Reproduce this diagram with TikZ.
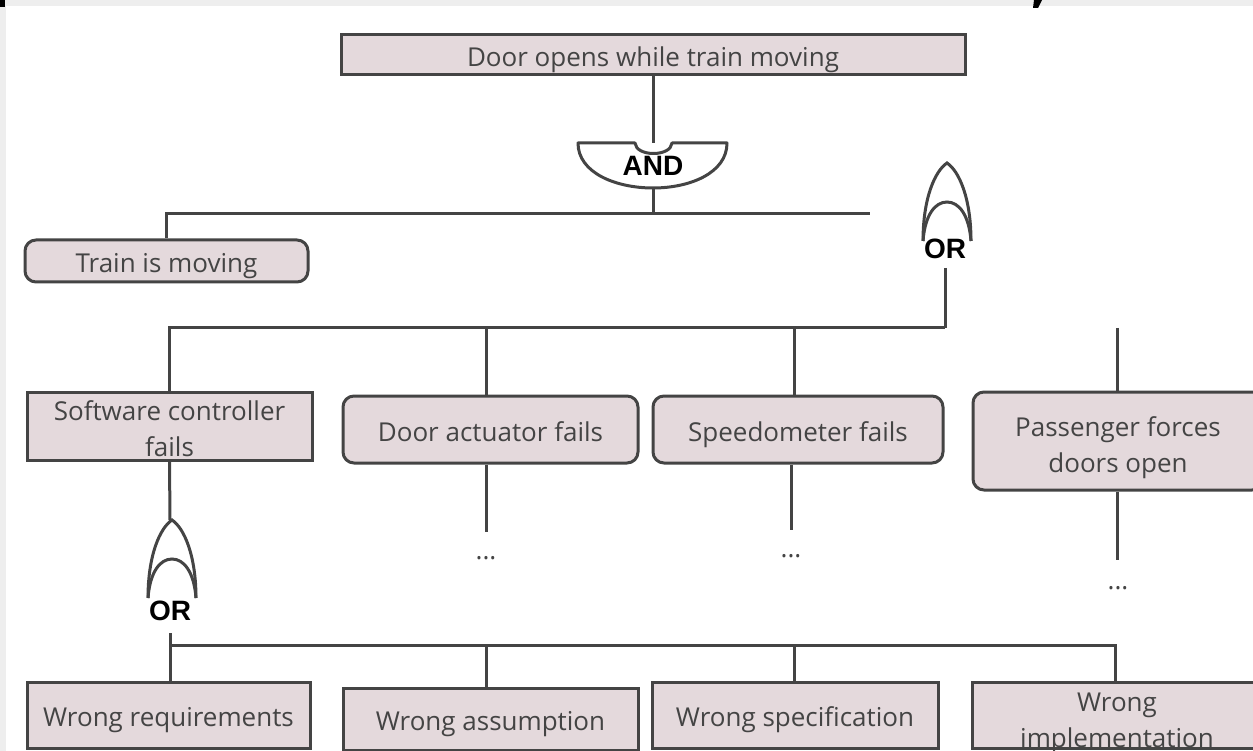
\documentclass[tikz,border=0pt]{standalone}
\usepackage{fontspec}
\setmainfont{Open Sans}
\newfontfamily\gatefont{Liberation Sans}
\definecolor{boxfill}{HTML}{E4D9DC}
\definecolor{edge}{HTML}{444444}
\definecolor{frame}{HTML}{EEEEEE}
\tikzset{
  event/.style={draw=edge, fill=boxfill, line width=3pt, text=edge,
    font=\fontsize{26}{36}\selectfont, inner sep=0pt, align=center,
    text height=23pt, text depth=0pt},
  sharpbox/.style={event},
  roundbox/.style={event, rounded corners=11pt},
  twolines/.style={text height=#1, text depth=0pt},
  wire/.style={draw=edge, line width=3pt},
  gatelabel/.style={font=\gatefont\bfseries\fontsize{28}{28}\selectfont, text=black, inner sep=0pt},
  more/.style={font=\fontsize{26}{26}\selectfont, text=edge, inner sep=0pt},
  orgate/.pic={
    \draw[wire] (-24,78) .. controls (-24,35) and (-12,8) .. (0,0)
      .. controls (12,8) and (24,35) .. (24,78);
    \draw[wire] (-24,78) .. controls (-22,52) and (-12,39) .. (0,39)
      .. controls (12,39) and (22,52) .. (24,78);
  }
}
\begin{document}
\begin{tikzpicture}[x=1pt, y=-1pt]
  \useasboundingbox (0,0) rectangle (1253,751);
  \fill[frame] (0,0) rectangle (1253,6);
  \fill[frame] (0,0) rectangle (6,751);
  \fill[black] (0,0) rectangle (5,7);
  \fill[black] (1034,0) -- (1042,0) -- (1038,8) -- (1033,8) -- cycle;

  % events
  \node[sharpbox, minimum width=624, minimum height=40] (door) at (653,55) {Door opens while train moving};
  \node[roundbox, minimum width=283, minimum height=42] (train) at (166.5,261) {Train is moving};
  \node[sharpbox, twolines=60pt, minimum width=285, minimum height=68] (soft) at (169.5,426) {Software controller\\fails};
  \node[roundbox, minimum width=295, minimum height=67] (actuator) at (490.5,429.5) {Door actuator fails};
  \node[roundbox, minimum width=290, minimum height=67] (speedo) at (798,429.5) {Speedometer fails};
  \node[roundbox, twolines=62pt, minimum width=290, minimum height=98] (passenger) at (1118,441) {Passenger forces\\doors open};
  \node[sharpbox, minimum width=283, minimum height=66] (req) at (168.5,715) {Wrong requirements};
  \node[sharpbox, minimum width=295, minimum height=62] (assump) at (490.5,719) {Wrong assumption};
  \node[sharpbox, minimum width=286, minimum height=66] (spec) at (795,715) {Wrong specification};
  \node[sharpbox, twolines=64pt, minimum width=290, minimum height=66] (impl) at (1117,715) {Wrong\\implementation};

  % AND gate
  \coordinate (andin) at (653,143);
  \coordinate (andout) at (653,188);
  \draw[wire, line join=round] (578,143) -- (635,143) .. controls (636,157) and (671,157) .. (672,143)
    -- (727,143) .. controls (727,173) and (690,188) .. (andout)
    .. controls (616,188) and (578,173) .. cycle;
  \node[gatelabel] (andlabel) at (653,166) {AND};

  % OR gates
  \pic at (947,163) {orgate};
  \node[gatelabel] (orlabelA) at (945,249) {OR};
  \coordinate (orAout) at (945,268);
  \pic at (172,520) {orgate};
  \node[gatelabel] (orlabelB) at (170,611) {OR};
  \coordinate (orBin) at (170,520);
  \coordinate (orBout) at (170,633);

  % connectors
  \coordinate (busA) at (653,214);
  \coordinate (busAend) at (870,214);
  \draw[wire] (door.south) -- (andin);
  \draw[wire] (andout) -- (busA);
  \draw[wire] (train.north) |- (busAend);

  \coordinate (busB) at (945,328);
  \draw[wire] (orAout) -- (busB);
  \draw[wire] (soft.north) |- (busB);
  \draw[wire] (486,328) -- (486,0 |- actuator.north);
  \draw[wire] (794,328) -- (794,0 |- speedo.north);
  \draw[wire] (1117,328) -- (1117,0 |- passenger.north);

  \node[more] (moreA) at (486,558) {...};
  \node[more] (moreB) at (791,556) {...};
  \node[more] (moreC) at (1118,588) {...};
  \draw[wire] (486,0 |- actuator.south) -- (486,532);
  \draw[wire] (791,0 |- speedo.south) -- (791,530);
  \draw[wire] (1117,0 |- passenger.south) -- (1117,560);

  \draw[wire] (soft.south) -- (orBin);
  \coordinate (busC) at (1115,645);
  \draw[wire] (orBout) -- (170,0 |- req.north);
  \draw[wire] (170,645) -- (busC) -- (1115,0 |- impl.north);
  \draw[wire] (486,645) -- (486,0 |- assump.north);
  \draw[wire] (794,645) -- (794,0 |- spec.north);
\end{tikzpicture}
\end{document}
